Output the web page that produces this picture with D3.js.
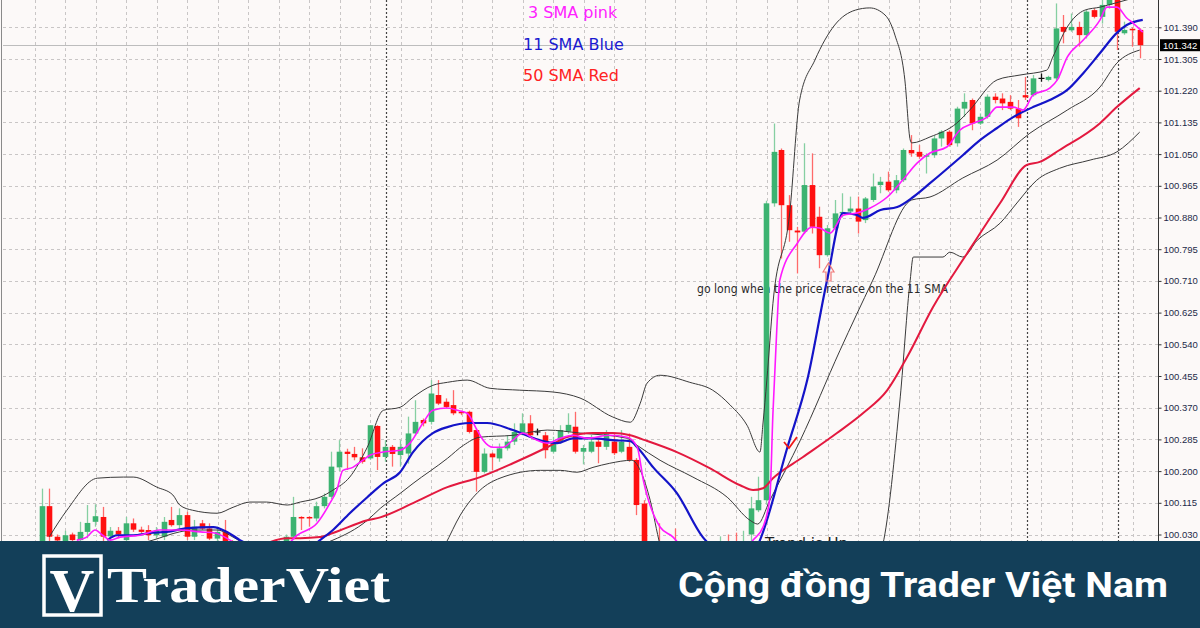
<!DOCTYPE html>
<html><head><meta charset="utf-8">
<script src="https://cdn.jsdelivr.net/npm/d3@7/dist/d3.min.js"></script>
<style>html,body{margin:0;padding:0;background:#fcf9f8;overflow:hidden}</style>
</head><body><svg id="c" width="1200" height="628"></svg>
<script>
// ---- DATA (candle index 0..144) ----
const open = [99.990,100.106,100.024,100.010,100.030,100.015,100.037,100.064,100.077,100.025,
100.040,100.015,100.060,100.043,100.042,100.028,100.024,100.069,100.055,100.082,
100.024,100.060,100.046,100.019,100.037,100.010,99.985,99.970,99.980,99.960,
99.975,99.990,100.005,100.024,100.077,100.077,100.073,100.106,100.131,100.210,
100.252,100.246,100.237,100.234,100.321,100.238,100.265,100.243,100.247,100.301,
100.337,100.332,100.404,100.386,100.377,100.359,100.359,100.310,100.198,100.247,
100.234,100.261,100.279,100.301,100.328,100.305,100.296,100.252,100.279,100.306,
100.319,100.252,100.252,100.279,100.265,100.279,100.252,100.265,100.230,100.113,
99.980,99.960,99.930,99.950,99.920,99.940,99.920,99.950,99.970,99.960,
99.990,100.000,99.985,100.030,100.095,100.122,100.918,101.061,100.913,100.845,
100.842,100.967,100.882,100.779,100.851,100.891,100.896,100.904,100.873,100.927,
100.967,100.976,100.953,100.980,101.061,101.056,101.043,101.047,101.092,101.110,
101.079,101.172,101.195,101.132,101.150,101.204,101.199,101.190,101.172,101.208,
101.208,101.253,101.249,101.253,101.391,101.382,101.391,101.369,101.436,101.418,
101.450,101.480,101.374,101.386,101.383];
const high = [100.153,100.153,100.030,100.040,100.035,100.064,100.109,100.111,100.104,100.050,
100.050,100.077,100.073,100.051,100.055,100.050,100.077,100.104,100.100,100.091,
100.069,100.069,100.060,100.051,100.069,100.015,100.000,99.990,99.995,99.990,
100.000,100.010,100.030,100.131,100.079,100.079,100.118,100.140,100.252,100.283,
100.260,100.265,100.261,100.323,100.323,100.283,100.270,100.283,100.346,100.390,
100.341,100.444,100.444,100.395,100.417,100.362,100.362,100.314,100.261,100.250,
100.274,100.296,100.328,100.355,100.350,100.314,100.305,100.292,100.323,100.355,
100.359,100.270,100.297,100.285,100.310,100.301,100.310,100.301,100.235,100.122,
99.995,100.060,99.970,100.046,99.960,99.950,99.970,99.990,99.990,100.025,
100.030,100.035,100.040,100.131,100.185,100.925,101.132,101.065,100.940,100.855,
101.079,101.052,100.909,100.860,100.927,100.945,100.936,100.936,100.935,100.998,
100.989,101.003,100.994,101.065,101.101,101.074,101.052,101.100,101.114,101.114,
101.177,101.213,101.199,101.159,101.210,101.213,101.213,101.208,101.195,101.257,
101.262,101.266,101.260,101.454,101.423,101.427,101.405,101.436,101.441,101.470,
101.500,101.500,101.405,101.390,101.387];
const low = [99.970,100.010,100.000,100.000,100.000,100.000,100.020,100.051,100.010,100.010,
100.020,100.000,100.037,100.033,100.015,100.020,100.015,100.051,100.046,100.015,
100.015,100.042,100.015,100.010,99.990,99.970,99.960,99.950,99.950,99.950,
99.960,99.980,99.990,100.015,100.042,100.051,100.065,100.100,100.125,100.200,
100.203,100.229,100.220,100.230,100.203,100.225,100.212,100.212,100.220,100.295,
100.320,100.325,100.377,100.368,100.350,100.350,100.301,100.145,100.194,100.203,
100.225,100.255,100.270,100.296,100.290,100.296,100.234,100.247,100.274,100.300,
100.247,100.218,100.248,100.221,100.257,100.243,100.248,100.225,100.082,99.960,
99.930,99.920,99.910,99.900,99.900,99.900,99.910,99.940,99.940,99.950,
99.960,99.970,99.970,100.000,100.090,100.110,100.909,100.770,100.815,100.730,
100.837,100.837,100.744,100.775,100.846,100.880,100.887,100.837,100.865,100.922,
100.945,100.949,100.945,100.975,101.043,101.038,100.998,101.040,101.070,101.070,
101.070,101.150,101.114,101.128,101.145,101.186,101.168,101.168,101.123,101.195,
101.204,101.244,101.245,101.248,101.347,101.378,101.338,101.360,101.414,101.400,
101.440,101.329,101.370,101.338,101.307];
const close = [100.106,100.024,100.014,100.028,100.015,100.037,100.061,100.079,100.024,100.040,
100.030,100.060,100.043,100.037,100.028,100.040,100.064,100.055,100.082,100.024,
100.051,100.046,100.019,100.037,100.010,99.985,99.970,99.980,99.960,99.975,
99.990,100.000,100.024,100.077,100.074,100.073,100.106,100.131,100.212,100.252,
100.246,100.237,100.225,100.323,100.238,100.265,100.246,100.265,100.301,100.332,
100.328,100.408,100.381,100.372,100.355,100.355,100.305,100.198,100.247,100.237,
100.261,100.279,100.305,100.328,100.296,100.305,100.256,100.279,100.310,100.324,
100.252,100.262,100.279,100.265,100.301,100.248,100.279,100.230,100.109,99.980,
99.950,99.930,99.950,99.920,99.940,99.920,99.950,99.970,99.960,99.990,
99.980,99.985,100.010,100.100,100.122,100.918,101.056,100.913,100.846,100.840,
100.967,100.855,100.779,100.851,100.891,100.895,100.904,100.869,100.931,100.963,
100.976,100.953,100.980,101.061,101.052,101.043,101.047,101.092,101.110,101.074,
101.172,101.190,101.132,101.150,101.204,101.195,101.186,101.172,101.146,101.202,
101.253,101.253,101.257,101.387,101.378,101.391,101.369,101.432,101.418,101.450,
101.480,101.378,101.383,101.383,101.342];

// indicator lines: [candle index, price]
const sma3 = [[4.6,100.015],[5.9,100.023],[7,100.042],[8,100.028],[9,100.015],[10.3,100.023],[12.9,100.028],[15.5,100.042],[18.1,100.042],[20.8,100.037],[22.7,100.034],[24.7,100.015],[28,99.97],[31,99.98],[33.5,100.028],[36.1,100.060],[37.8,100.114],[38.7,100.149],[39.5,100.202],[40.8,100.210],[42.1,100.229],[43.1,100.243],[44.8,100.251],[47,100.256],[48.3,100.275],[50,100.329],[51.3,100.363],[53.2,100.369],[54.5,100.363],[55.8,100.355],[57.1,100.310],[57.9,100.283],[59.2,100.264],[60.5,100.264],[61.8,100.283],[63.1,100.302],[64.4,100.288],[66.3,100.275],[68,100.288],[69.7,100.296],[71.5,100.288],[74.5,100.296],[76.8,100.291],[78.1,100.264],[78.9,100.176],[81.1,100.050],[82.8,100.023],[83.7,100.002],[87,99.94],[91,99.96],[93.3,100.015],[94.6,100.050],[95.5,100.130],[95.9,100.355],[96.4,100.578],[96.8,100.712],[99.1,100.811],[101,100.854],[102,100.852],[103.4,100.838],[105.1,100.886],[106.9,100.892],[108.6,100.905],[110.9,100.935],[112.9,100.980],[114.8,101.026],[116.5,101.053],[118.7,101.069],[120.4,101.114],[122.2,101.133],[124,101.149],[125.3,101.176],[127.4,101.176],[128.7,101.168],[130,101.208],[132.2,101.227],[133.2,101.249],[134.5,101.310],[136.6,101.356],[138.8,101.410],[139.7,101.444],[141,101.444],[142.3,101.415],[143.1,101.402],[144.4,101.377]];
const sma11 = [[8.6,100.015],[9.9,100.028],[12,100.028],[14.2,100.034],[16.4,100.037],[19.1,100.047],[22.5,100.050],[24.3,100.037],[26,100.015],[29,99.99],[34,99.98],[36.5,100.015],[38.2,100.042],[40.4,100.087],[42.7,100.130],[44.8,100.167],[47,100.197],[48.7,100.251],[51.3,100.302],[53.2,100.318],[56.2,100.329],[58.4,100.329],[61.8,100.310],[65.3,100.283],[67.6,100.275],[69.7,100.288],[72.3,100.288],[74.9,100.283],[77.2,100.280],[78.1,100.264],[80.2,100.210],[83.3,100.141],[86.7,100.023],[87.6,100.002],[90,99.94],[92.5,99.95],[94.2,100.015],[97.8,100.264],[100.4,100.444],[103,100.712],[105.1,100.892],[106.9,100.887],[107.7,100.879],[110,100.900],[112.2,100.908],[114.3,100.935],[116.5,100.972],[120.8,101.047],[123.1,101.088],[125.3,101.120],[127.4,101.149],[130,101.176],[132.2,101.195],[134.5,101.222],[136.6,101.267],[138.8,101.321],[141,101.375],[142.3,101.396],[144.4,101.410]];
const sma50 = [[28,99.99],[32.2,100.020],[33.9,100.020],[36.5,100.023],[38.2,100.034],[42.7,100.068],[44.4,100.076],[48.7,100.114],[53.2,100.157],[57.5,100.184],[61.8,100.221],[66.3,100.264],[68.9,100.291],[72.3,100.302],[74.9,100.302],[77.2,100.296],[79.1,100.283],[83.3,100.251],[87.6,100.208],[91.6,100.162],[93.3,100.149],[94.6,100.154],[95.9,100.181],[99.8,100.237],[104.3,100.302],[107.7,100.355],[110.9,100.417],[113.5,100.506],[116.9,100.640],[121.4,100.785],[125.7,100.919],[129.2,101.021],[130.9,101.029],[133.5,101.061],[138.8,101.133],[141,101.176],[144,101.227]];
const bbUpper = [[1,100.024],[3.3,100.095],[7.3,100.181],[10.7,100.184],[12,100.184],[15.1,100.157],[17.2,100.136],[18.1,100.109],[19.8,100.095],[23,100.087],[25.1,100.103],[27.3,100.117],[29.5,100.117],[32.2,100.109],[33.9,100.117],[36.5,100.130],[38.2,100.149],[40.4,100.184],[42.7,100.264],[44.8,100.363],[47,100.371],[48.7,100.398],[51.3,100.430],[53.2,100.438],[55.8,100.444],[58.8,100.422],[62.7,100.417],[67.1,100.412],[70.6,100.396],[74.9,100.345],[77.2,100.331],[78.5,100.382],[79.4,100.436],[81.1,100.457],[85,100.438],[88,100.417],[90.3,100.377],[92.5,100.323],[94.2,100.251],[94.6,100.329],[95.1,100.444],[95.9,100.650],[98.1,100.892],[99.4,101.195],[101.4,101.302],[104,101.396],[106.7,101.436],[108.6,101.442],[110.6,101.423],[111.9,101.369],[113.2,101.249],[113.9,101.088],[114.1,101.080],[116.5,101.096],[120,101.133],[121.7,101.168],[125.3,101.249],[128.3,101.262],[131.8,101.275],[132.6,101.310],[134.5,101.391],[136.8,101.436],[138.8,101.444],[140.8,101.455],[144.7,101.477]];
const bbMiddle = [[10,99.99],[14.6,100.015],[18.1,100.037],[19.8,100.042],[23,100.042],[25.1,100.023],[26.9,100.002],[30,99.99],[34,99.99],[38.2,100.015],[42.7,100.068],[44.4,100.100],[47,100.140],[48.7,100.167],[53.2,100.234],[55.3,100.269],[57.5,100.291],[61.8,100.296],[66.3,100.310],[70.6,100.302],[76.8,100.288],[78.1,100.269],[81.1,100.229],[85.4,100.184],[89.9,100.130],[92.9,100.068],[93.9,100.058],[95.5,100.122],[99.5,100.283],[104.7,100.524],[109,100.712],[114.1,100.927],[116.5,100.935],[120.8,100.986],[125.3,101.034],[129.6,101.106],[134.5,101.168],[138.8,101.230],[141,101.294],[144,101.329]];
const bbLower = [[50,99.90],[52.9,100.002],[54.9,100.082],[57.5,100.149],[60.1,100.181],[65.4,100.202],[68,100.202],[70.2,100.197],[72.3,100.210],[74.5,100.221],[77.4,100.229],[78.5,100.202],[79.8,100.122],[81.1,100.002],[83,99.90],[108,99.90],[110.3,100.002],[112.6,100.399],[113.9,100.712],[114.3,100.774],[118.2,100.774],[119.1,100.787],[120.8,100.774],[122.7,100.819],[125.7,100.865],[127.9,100.919],[130.5,100.980],[133.5,101.012],[137.5,101.034],[141,101.056],[144,101.109]];

const priceTicks = [101.390,101.305,101.220,101.135,101.050,100.965,100.880,100.795,100.710,100.625,100.540,100.455,100.370,100.285,100.200,100.115,100.030];
const currentPrice = 101.342;
const separators = [45.15, 129.2, 141.15];

// ---- SCALES ----
const svg = d3.select("#c");
const x = d3.scaleLinear().domain([0,144]).range([41.7, 1139.7]);
const y = d3.scaleLinear().domain([100.030, 101.390]).range([534.5, 27.3]);
const AX = 1158;

svg.append("rect").attr("width",1200).attr("height",628).attr("fill","#fcf9f8");

// grid
const g = svg.append("g");
g.selectAll(".hg").data(priceTicks).join("line")
  .attr("x1",3).attr("x2",AX).attr("y1",d=>Math.round(y(d))+0.5).attr("y2",d=>Math.round(y(d))+0.5)
  .attr("stroke","#c9c6c6").attr("stroke-dasharray","3,3");
const vg = d3.range(0,37).map(k=>4*k-0.88);
g.selectAll(".vg").data(vg).join("line")
  .attr("x1",d=>Math.round(x(d))+0.5).attr("x2",d=>Math.round(x(d))+0.5).attr("y1",0).attr("y2",541)
  .attr("stroke","#c9c6c6").attr("stroke-dasharray","3,3");
g.selectAll(".sep").data(separators).join("line")
  .attr("x1",d=>Math.round(x(d))+0.5).attr("x2",d=>Math.round(x(d))+0.5).attr("y1",0).attr("y2",541)
  .attr("stroke","#444").attr("stroke-width",1.2).attr("stroke-dasharray","2,2");
// current price line
svg.append("line").attr("x1",3).attr("x2",AX).attr("y1",Math.round(y(currentPrice))+0.5).attr("y2",Math.round(y(currentPrice))+0.5)
  .attr("stroke","#bdbdbd").attr("stroke-width",1.2);
// left border
svg.append("line").attr("x1",1.5).attr("x2",1.5).attr("y1",0).attr("y2",541).attr("stroke","#8a8a8a");

// annotation text under candles
svg.append("text").attr("x",697).attr("y",293).attr("font-family","DejaVu Sans, sans-serif")
  .attr("font-size",11.5).attr("fill","#2a2a2a").attr("textLength",251).attr("lengthAdjust","spacingAndGlyphs")
  .text("go long when the price retrace on the 11 SMA");
svg.append("text").attr("x",765).attr("y",549).attr("font-family","DejaVu Sans, sans-serif")
  .attr("font-size",15).attr("fill","#222").text("Trend is Up");

// candles
const idx = d3.range(open.length);
const green = "#3cb371", red = "#ff1010";
const cg = svg.append("g");
idx.forEach(i=>{
  const o=open[i], c=close[i], h=high[i], l=low[i];
  const col = c>o?green:(c<o?red:"#111");
  const wick = c>o?"#86cfa2":(c<o?"#ff6a6a":"#111");
  const cx = Math.round(x(i))+0.5;
  cg.append("line").attr("x1",cx).attr("x2",cx).attr("y1",y(h)).attr("y2",y(l)).attr("stroke",wick).attr("stroke-width",1.3);
  if (c===o) {
    cg.append("line").attr("x1",cx-3).attr("x2",cx+3).attr("y1",y(o)).attr("y2",y(o)).attr("stroke","#111").attr("stroke-width",1.2);
  } else {
    const top=y(Math.max(o,c)), bot=y(Math.min(o,c));
    cg.append("rect").attr("x",cx-2.8).attr("width",5.6).attr("y",top).attr("height",Math.max(1.5,bot-top)).attr("fill",col);
  }
});

// indicator lines
const line = d3.line().x(d=>x(d[0])).y(d=>y(d[1])).curve(d3.curveMonotoneX);
const L = svg.append("g").attr("fill","none");
[[bbUpper,"#3a3a3a",1],[bbMiddle,"#3a3a3a",1],[bbLower,"#3a3a3a",1],
 [sma50,"#e3193f",2],[sma11,"#1414c8",2.2],[sma3,"#ff1aff",1.6]].forEach(([d,c,w])=>{
  L.append("path").attr("d",line(d)).attr("stroke",c).attr("stroke-width",w).attr("stroke-linejoin","round");
});

// check mark & arrow
svg.append("path").attr("d","M784,442 L789,448 L797,437").attr("fill","none").attr("stroke","#f01818").attr("stroke-width",1.8);
svg.append("path").attr("d","M823,272 L828.5,263 L834,272 L831,272 L831,281 L826,281 L826,272 Z")
  .attr("fill","none").attr("stroke","#f07a7a").attr("stroke-width",1.2);

// legend texts
const lt = [["3 SMA pink","#ff22ff",528,18],["11 SMA Blue","#1a1ad0",523,50],["50 SMA Red","#ff2222",523,81]];
svg.selectAll(".lt").data(lt).join("text").attr("x",d=>d[2]).attr("y",d=>d[3])
  .attr("font-family","DejaVu Sans, sans-serif").attr("font-size",16).attr("fill",d=>d[1]).text(d=>d[0]);

// right axis
svg.append("rect").attr("x",AX).attr("y",0).attr("width",42).attr("height",541).attr("fill","#fcf9f8");
const axis = d3.axisRight(y).tickValues(priceTicks).tickFormat(d3.format(".3f")).tickSize(3).tickPadding(2);
const ag = svg.append("g").attr("transform",`translate(${AX+0.5},0)`).call(axis);
ag.select(".domain").attr("d","M0,0V541").attr("stroke","#333");
ag.selectAll(".tick line").attr("stroke","#333");
ag.selectAll(".tick text").attr("font-family","Liberation Sans, Arial, sans-serif").attr("font-size",9.5).attr("fill","#1d2a48");
// current price box
svg.append("rect").attr("x",AX+2).attr("y",y(currentPrice)-6).attr("width",40).attr("height",12).attr("fill","#000");
svg.append("text").attr("x",AX+5).attr("y",y(currentPrice)+3.5).attr("font-family","Liberation Sans, Arial, sans-serif")
  .attr("font-size",9.5).attr("fill","#fff").text(d3.format(".3f")(currentPrice));

// banner
svg.append("rect").attr("x",0).attr("y",541).attr("width",1200).attr("height",87).attr("fill","#133f59");
svg.append("rect").attr("x",44).attr("y",556).attr("width",57).attr("height",59).attr("fill","none").attr("stroke","#fff").attr("stroke-width",3.5);
svg.append("text").attr("x",72).attr("y",611).attr("text-anchor","middle").attr("font-family","Liberation Serif, serif")
  .attr("font-weight","bold").attr("font-size",62).attr("fill","#fff").text("V");
svg.append("text").attr("x",107).attr("y",602).attr("font-family","Liberation Serif, serif").attr("font-weight","bold")
  .attr("font-size",50).attr("fill","#fff").attr("textLength",283).attr("lengthAdjust","spacingAndGlyphs").text("TraderViet");
svg.append("text").attr("x",678).attr("y",597).attr("font-family","Roboto, 'Noto Sans', sans-serif").attr("font-weight","bold")
  .attr("font-size",35).attr("fill","#fff").attr("textLength",490).attr("lengthAdjust","spacingAndGlyphs").text("Cộng đồng Trader Việt Nam");
</script></body></html>
